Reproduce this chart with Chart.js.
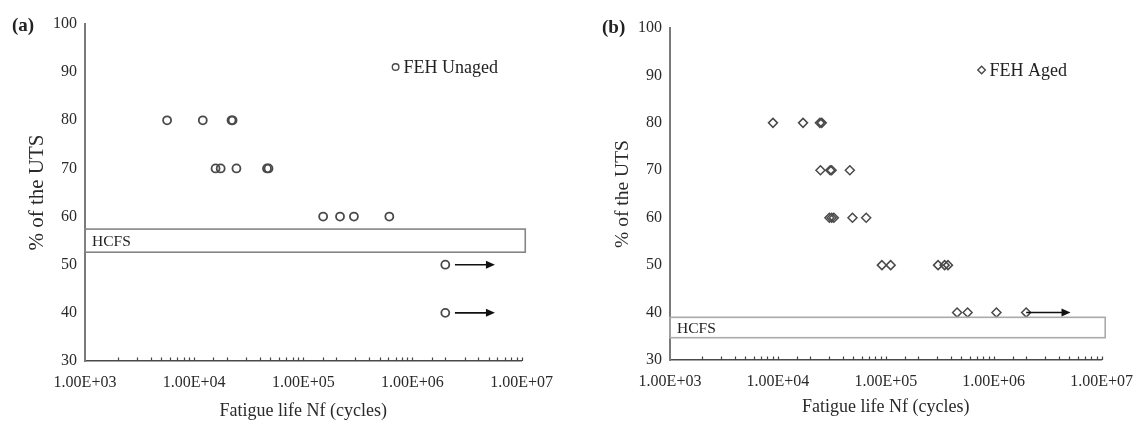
<!DOCTYPE html>
<html>
<head>
<meta charset="utf-8">
<script src="https://cdn.jsdelivr.net/npm/chart.js@4.4.1/dist/chart.umd.min.js"></script>
<style>
  body { margin: 0; background: #fff; width: 1145px; height: 425px; position: relative; overflow: hidden; font-family: "Liberation Serif", serif; }
  .panel { position: absolute; top: 0; height: 425px; }
  #pa { left: 0; width: 565px; }
  #pb { left: 565px; width: 580px; }
  .tag { position: absolute; font-weight: bold; font-size: 19px; line-height: 20px; color: #222; }
</style>
</head>
<body>
<div class="panel" id="pa"><canvas id="chartA"></canvas></div>
<div class="panel" id="pb"><canvas id="chartB"></canvas></div>
<div class="tag" style="left:12px;top:15px">(a)</div>
<div class="tag" style="left:602px;top:17px">(b)</div>
<script>
// axis ticks
const xTickLabels = ['1.00E+03', '1.00E+04', '1.00E+05', '1.00E+06', '1.00E+07'];
const yMin = 30, yMax = 100, yStep = 10;

// (a) FEH unaged
const unagedCycles = [5650, 12000, 22000, 22500, 15700, 17500, 24400, 46500, 48000, 152000, 217000, 291000, 614000, 2000000, 2000000];
const unagedUts = [80, 80, 80, 80, 70, 70, 70, 70, 70, 60, 60, 60, 60, 50, 40];
const unagedRunoutLevels = [50, 40];
const unagedRunoutFrom = 2450000, unagedRunoutTo = 5700000;
const unagedHcfs = [52.6, 57.4];

// (b) FEH aged
const agedCycles = [9000, 17100, 24500, 25500, 24800, 30500, 31500, 46400, 30000, 31500, 33000, 49100, 65800,
  92000, 111000, 305000, 351000, 377000, 458000, 573000, 1060000, 2000000];
const agedUts = [80, 80, 80, 80, 70, 70, 70, 70, 60, 60, 60, 60, 60, 50, 50, 50, 50, 50, 40, 40, 40, 40];
const agedRunoutLevels = [40];
const agedRunoutFrom = 2000000, agedRunoutTo = 5150000;
const agedHcfs = [34.7, 39.0];

const hcfsEnd = 10800000;
const serif = '"Liberation Serif", "Times New Roman", serif';
const markColor = '#4a4a4a';

const extras = {
  id: 'extras',
  afterDraw(chart, args, o) {
    const { ctx, chartArea: a, scales: { x, y } } = chart;
    ctx.save();
    // small upward ticks on the log axis
    ctx.strokeStyle = '#444';
    ctx.lineWidth = 1.2;
    x.ticks.forEach(t => {
      if (t.value <= x.min) return;
      const px = Math.round(x.getPixelForValue(t.value)) + 0.5;
      ctx.beginPath();
      ctx.moveTo(px, a.bottom);
      ctx.lineTo(px, a.bottom - 3.5);
      ctx.stroke();
    });
    // HCFS band
    const bx2 = x.getPixelForValue(hcfsEnd);
    const bTop = y.getPixelForValue(o.hcfs[1]);
    const bBot = y.getPixelForValue(o.hcfs[0]);
    ctx.strokeStyle = o.boxColor;
    ctx.lineWidth = 1.6;
    ctx.strokeRect(a.left, bTop, bx2 - a.left, bBot - bTop);
    ctx.fillStyle = '#222';
    ctx.font = '15.5px ' + serif;
    ctx.textBaseline = 'middle';
    ctx.textAlign = 'left';
    ctx.fillText('HCFS', a.left + 7, (bTop + bBot) / 2 + 1);
    // run-out arrows
    ctx.strokeStyle = '#111';
    ctx.fillStyle = '#111';
    ctx.lineWidth = 1.6;
    o.arrows.forEach(lv => {
      const py = y.getPixelForValue(lv);
      const x1 = x.getPixelForValue(o.arrowFrom), x2 = x.getPixelForValue(o.arrowTo);
      ctx.beginPath();
      ctx.moveTo(x1, py);
      ctx.lineTo(x2 - 7, py);
      ctx.stroke();
      ctx.beginPath();
      ctx.moveTo(x2, py);
      ctx.lineTo(x2 - 9, py - 4);
      ctx.lineTo(x2 - 9, py + 4);
      ctx.closePath();
      ctx.fill();
    });
    // legend
    const lx = a.right - o.legend.dx, ly = a.top + o.legend.dy;
    ctx.strokeStyle = markColor;
    ctx.lineWidth = 1.4;
    ctx.beginPath();
    if (o.legend.style === 'circle') {
      ctx.arc(lx, ly, 3.3, 0, Math.PI * 2);
    } else {
      ctx.moveTo(lx, ly - 3.8); ctx.lineTo(lx + 3.8, ly); ctx.lineTo(lx, ly + 3.8); ctx.lineTo(lx - 3.8, ly); ctx.closePath();
    }
    ctx.stroke();
    ctx.fillStyle = '#222';
    ctx.font = '18px ' + serif;
    ctx.fillText(o.legend.text, lx + 8, ly + 1);
    ctx.restore();
  }
};

function xLabel(v) {
  const e = Math.log10(v);
  return Math.abs(e - Math.round(e)) < 1e-9 ? xTickLabels[Math.round(e) - 3] : '';
}

function makeChart(id, cycles, uts, style, radius, bw, yWidth, xHeight, pad, yTitleSize, yTitlePad, xTitlePad, extra) {
  return new Chart(document.getElementById(id), {
    type: 'scatter',
    data: {
      datasets: [{
        data: cycles.map((c, i) => ({ x: c, y: uts[i] })),
        pointStyle: style,
        pointRadius: radius,
        pointBorderWidth: bw,
        pointBorderColor: markColor,
        pointBackgroundColor: 'rgba(255,255,255,0)'
      }]
    },
    options: {
      responsive: true,
      maintainAspectRatio: false,
      animation: false,
      events: [],
      layout: { padding: pad },
      plugins: { legend: { display: false }, tooltip: { enabled: false }, extras: extra },
      scales: {
        x: {
          type: 'logarithmic',
          min: 1000,
          max: 10000000,
          afterFit: s => { s.height = xHeight; },
          grid: { display: false, drawTicks: false },
          border: { display: true, color: '#4a4a4a', width: 1.6 },
          ticks: { autoSkip: false, maxRotation: 0, padding: 12, color: '#2a2a2a', font: { family: serif, size: 16 }, callback: xLabel },
          title: { display: true, text: 'Fatigue life Nf (cycles)', color: '#2a2a2a', font: { family: serif, size: 18 }, padding: { top: 0, bottom: xTitlePad } }
        },
        y: {
          min: yMin,
          max: yMax,
          afterFit: s => { s.width = yWidth; },
          grid: { display: false, drawTicks: false },
          border: { display: true, color: '#7a7a7a', width: 2 },
          ticks: { stepSize: yStep, padding: 8, color: '#2a2a2a', font: { family: serif, size: 16 } },
          title: { display: true, text: '% of the UTS', color: '#2a2a2a', font: { family: serif, size: yTitleSize }, padding: { top: yTitlePad, bottom: 0 } }
        }
      }
    },
    plugins: [extras]
  });
}

makeChart('chartA', unagedCycles, unagedUts, 'circle', 4, 1.8, 85, 64,
  { left: 0, top: 24, right: 40, bottom: 0 }, 21, 25, 3,
  { hcfs: unagedHcfs, boxColor: '#858585', arrows: unagedRunoutLevels, arrowFrom: unagedRunoutFrom, arrowTo: unagedRunoutTo,
    legend: { dx: 126, dy: 43, style: 'circle', text: 'FEH Unaged' } });

makeChart('chartB', agedCycles, agedUts, 'rectRot', 4.5, 1.5, 105, 65,
  { left: 0, top: 28, right: 35, bottom: 0 }, 19.5, 46, 7,
  { hcfs: agedHcfs, boxColor: '#aaaaaa', arrows: agedRunoutLevels, arrowFrom: agedRunoutFrom, arrowTo: agedRunoutTo,
    legend: { dx: 120, dy: 42, style: 'rectRot', text: 'FEH Aged' } });
</script>
</body>
</html>
